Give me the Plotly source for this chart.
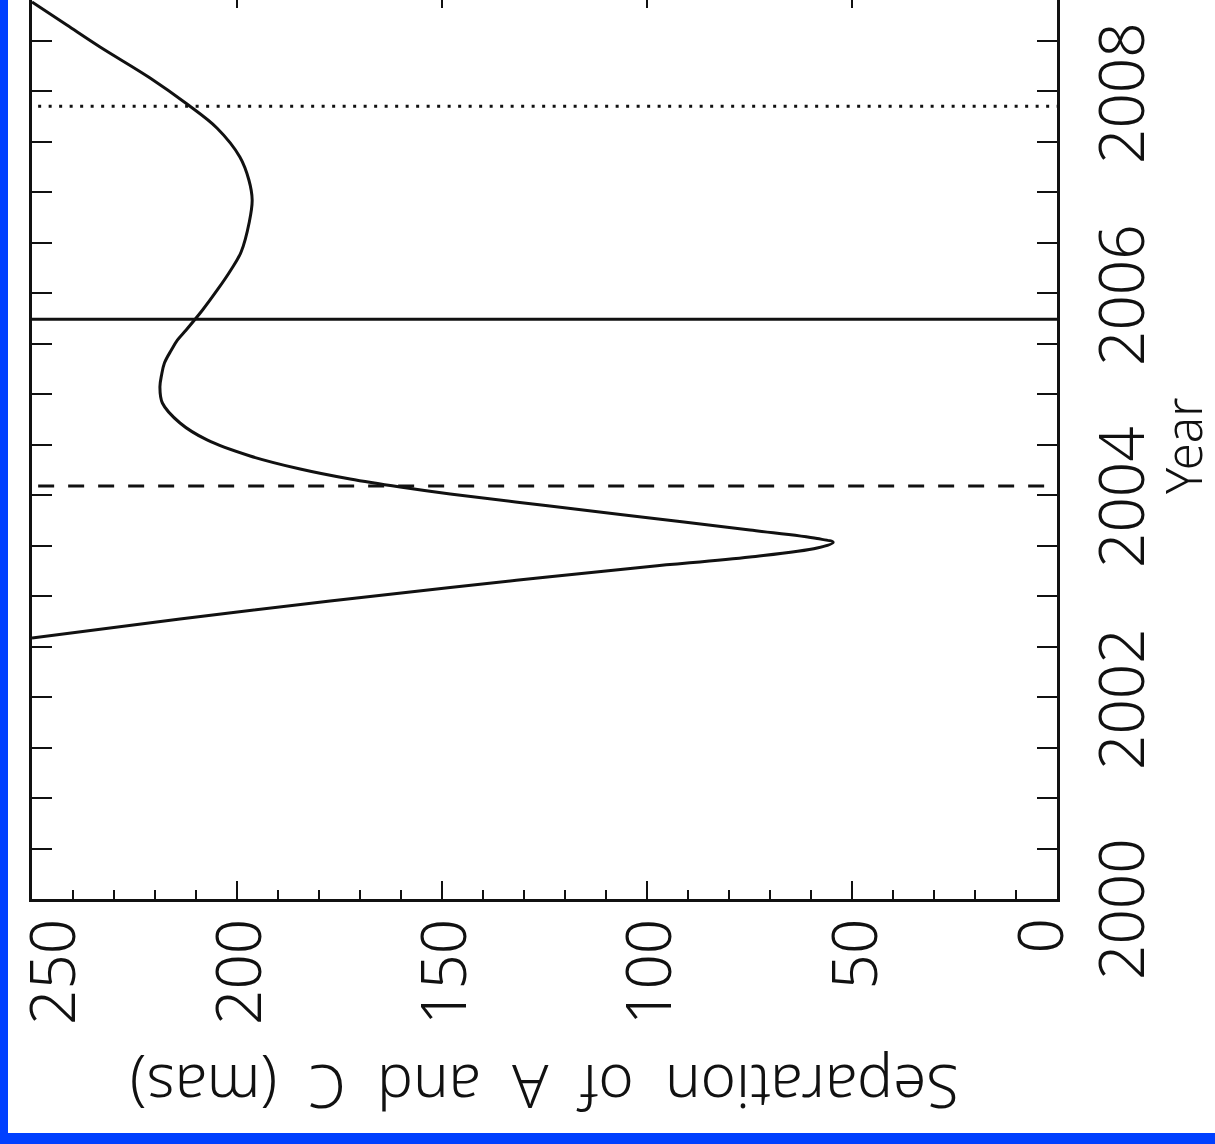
import plotly.graph_objects as go

# Predicted separation of components A and C versus epoch
year = [2002.584, 2002.772, 2002.951, 2003.085, 2003.191, 2003.292, 2003.386,
        2003.475, 2003.530, 2003.569, 2003.653, 2003.772, 2003.891,
        2004.010, 2004.079, 2004.158, 2004.257, 2004.386, 2004.545, 2004.713,
        2004.911, 2005.069, 2005.188, 2005.307, 2005.436, 2005.535, 2005.634,
        2005.832, 2006.030, 2006.228, 2006.406, 2006.703, 2006.921, 2007.119,
        2007.347, 2007.634, 2007.871, 2008.129, 2008.436, 2008.653, 2008.881]
separation = [250.0, 213.9, 177.3, 148.0, 123.7, 99.3, 74.9,
              58.5, 54.6, 58.5, 74.9, 99.3, 123.7,
              148.0, 160.2, 172.4, 184.6, 196.8, 207.3, 213.9,
              218.2, 218.8, 218.4, 217.7, 216.0, 214.5, 212.4,
              208.4, 204.8, 201.5, 199.0, 197.0, 196.3, 197.1,
              199.3, 204.9, 212.2, 221.2, 233.4, 241.5, 250.0]

# Marked epochs (dashed, solid, dotted)
epoch_years = [2004.09, 2005.74, 2007.85]
epoch_dash = ["16px,14px", "solid", "3px,7.5px"]

sep_ticks = [0, 50, 100, 150, 200, 250]
sep_label_shift = [-19, 0, 0, 0, 0, 19]      # end labels pulled inside the frame
year_ticks = [2000, 2002, 2004, 2006, 2008]
year_label_shift = [-10, -2, -2, -2, -2]

FONT = "Noto Sans"
INK = "#111111"
L, R, T, B = 32, 158, 0, 245  # plot area margins in px
W, H = 1215, 1144
pw, ph = W - L - R, H - T - B


def px_x(p):
    return (p - L) / pw


def px_y(p):
    return (ph - p) / ph


fig = go.Figure()

fig.add_trace(go.Scatter(
    x=separation, y=year, mode="lines",
    line=dict(color=INK, width=3, shape="spline", smoothing=1.0),
    showlegend=False, hoverinfo="skip",
))

for yr, dash in zip(epoch_years, epoch_dash):
    fig.add_shape(type="line", xref="paper", yref="y",
                  x0=0.006 if dash != "solid" else 0, x1=1, y0=yr, y1=yr,
                  line=dict(color=INK, width=3, dash=dash))

# white sheet over the blue page
fig.add_shape(type="rect", xref="paper", yref="paper", layer="below",
              x0=px_x(8), x1=px_x(W + 20), y0=px_y(1133), y1=px_y(-20),
              fillcolor="white", line=dict(width=0))

tickfont = dict(family=FONT, size=62, color=INK, weight=300)

# tick labels, turned like the rest of the page
for v, sh in zip(sep_ticks, sep_label_shift):
    fig.add_annotation(text=str(v), textangle=-90, x=v, xref="x",
                       y=px_y(917), yref="paper", xanchor="center", yanchor="top",
                       xshift=sh, showarrow=False, font=tickfont)
for v, sh in zip(year_ticks, year_label_shift):
    fig.add_annotation(text=str(v), textangle=-90, x=px_x(1076), xref="paper",
                       y=v, yref="y", xanchor="left", yanchor="middle",
                       yshift=sh, showarrow=False, font=tickfont)

NB = "\u00a0"
fig.add_annotation(text=(NB * 2).join(["Separation", "of", "A", "and", "C", "(mas)"]),
                   textangle=180, xref="paper", yref="paper", x=0.5, y=px_y(1088),
                   xanchor="center", yanchor="middle", showarrow=False,
                   font=dict(family=FONT, size=60, color=INK, weight=300))
fig.add_annotation(text="Year", textangle=-90,
                   xref="paper", yref="paper", x=px_x(1183), y=px_y(446),
                   xanchor="center", yanchor="middle", showarrow=False,
                   font=dict(family=FONT, size=49, color=INK, weight=300))

fig.update_layout(
    width=W, height=H,
    margin=dict(l=L, r=R, t=T, b=B, pad=0),
    paper_bgcolor="#0040ff", plot_bgcolor="white",
    xaxis=dict(
        range=[250, 0], showgrid=False, zeroline=False,
        showline=True, linecolor=INK, linewidth=2.5,
        ticks="inside", ticklen=18, tickwidth=2, tickcolor=INK,
        tickvals=sep_ticks, showticklabels=False,
        minor=dict(dtick=10, ticks="inside", ticklen=9, tickwidth=2, tickcolor=INK),
    ),
    xaxis2=dict(
        overlaying="x", matches="x", side="top", showgrid=False, zeroline=False,
        showline=False, ticks="inside", ticklen=8, tickwidth=2, tickcolor=INK,
        tickvals=sep_ticks, showticklabels=False,
    ),
    yaxis=dict(
        range=[2000, 2000 + 899 / 101], side="right", showgrid=False, zeroline=False,
        showline=True, linecolor=INK, linewidth=2.5, mirror="allticks",
        ticks="inside", ticklen=20, tickwidth=2, tickcolor=INK,
        tickvals=year_ticks, showticklabels=False,
        minor=dict(dtick=0.5, ticks="inside", ticklen=10, tickwidth=2, tickcolor=INK),
    ),
)

# invisible trace that activates the top tick axis
fig.add_trace(go.Scatter(x=[250, 0], y=[2000, 2000], xaxis="x2", mode="lines",
                         line=dict(width=0), showlegend=False, hoverinfo="skip"))

fig.write_html("out.html")
